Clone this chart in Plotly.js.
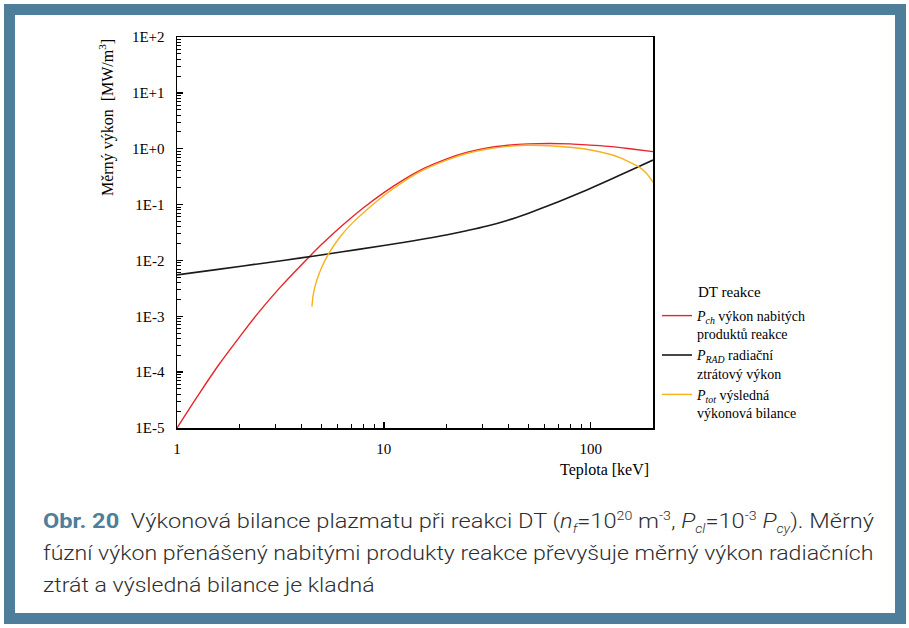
<!DOCTYPE html>
<html>
<head>
<meta charset="utf-8">
<script src="https://cdn.plot.ly/plotly-3.0.1.min.js"></script>
<style>
  html, body { margin:0; padding:0; background:#ffffff; }
  #wrap { position:relative; width:909px; height:628px; overflow:hidden; background:#fff; }
  #chart { position:absolute; left:0; top:0; width:909px; height:628px; }
  #frame { position:absolute; left:4px; top:4px; right:3px; bottom:4px; border:11px solid #4e7e9a; box-sizing:border-box; pointer-events:none; }
  .cap { position:absolute; left:43px; white-space:nowrap; font-family:Roboto, "Noto Sans", sans-serif; font-weight:300; font-size:20px; color:#2e2e2e; transform-origin:left center; line-height:1; }
  .cap b { color:#4e7e9a; font-weight:700; }
  .cap sub, .cap sup { font-size:12px; line-height:0; }
</style>
</head>
<body>
<div id="wrap">
  <div id="chart"></div>
  <div id="frame"></div>
  <div class="cap" id="c1" style="top:511px"><b>Obr. 20</b>&nbsp; Výkonová bilance plazmatu při reakci DT (<i>n</i><sub><i>f</i></sub>=10<sup>20</sup> m<sup>-3</sup>, <i>P</i><sub><i>cl</i></sub>=10<sup>-3</sup> <i>P</i><sub><i>cy</i></sub>). Měrný</div>
  <div class="cap" id="c2" style="top:543px">fúzní výkon přenášený nabitými produkty reakce převyšuje měrný výkon radiačních</div>
  <div class="cap" id="c3" style="top:575px">ztrát a výsledná bilance je kladná</div>
</div>
<script>
// Temperature [keV] and power density [MW/m3]
const T_ch  = [1, 1.26, 1.58, 2, 2.51, 3.16, 3.98, 5.01, 6.31, 7.94, 10, 12.6, 15.8, 20, 25.1, 31.6, 39.8, 50.1, 63.1, 79.4, 100, 126, 158, 200];
const P_ch  = [1e-5, 3.76e-5, 1.30e-4, 4.19e-4, 1.24e-3, 3.33e-3, 8.22e-3, 0.0194, 0.0425, 0.0867, 0.164, 0.286, 0.453, 0.653, 0.856, 1.03, 1.15, 1.22, 1.24, 1.22, 1.16, 1.09, 0.99, 0.885];

const T_rad = [1, 1.58, 2.51, 3.98, 6.31, 10, 12.6, 15.8, 20, 25.1, 31.6, 39.8, 50.1, 63.1, 79.4, 100, 126, 158, 200];
const P_rad = [0.0055, 0.00692, 0.00875, 0.0111, 0.01426, 0.01854, 0.0212, 0.0244, 0.0286, 0.0340, 0.0413, 0.0526, 0.0702, 0.0968, 0.1368, 0.1963, 0.287, 0.420, 0.628];

const T_tot = [4.49, 4.57, 4.75, 5.02, 5.4, 6.15, 7.13, 7.94, 10, 12.6, 15.8, 20, 25.1, 31.6, 39.8, 50.1, 63.1, 79.4, 100, 126, 140, 158, 173, 185, 200];
const P_tot = [0.0015, 0.0026, 0.0045, 0.0077, 0.0131, 0.0266, 0.049, 0.0705, 0.145, 0.265, 0.43, 0.62, 0.82, 0.99, 1.10, 1.15, 1.13, 1.06, 0.95, 0.78, 0.68, 0.55, 0.46, 0.37, 0.25];

const seriesNames = [
  '<i>P</i><sub><i>ch</i></sub> výkon nabitých<br>produktů reakce',
  '<i>P</i><sub><i>RAD</i></sub> radiační<br>ztrátový výkon',
  '<i>P</i><sub><i>tot</i></sub> výsledná<br>výkonová bilance'
];
const legendTitle = 'DT reakce';

const yTickVals = [1e-5, 1e-4, 1e-3, 1e-2, 1e-1, 1e0, 1e1, 1e2];
const yTickText = ['1E-5', '1E-4', '1E-3', '1E-2', '1E-1', '1E+0', '1E+1', '1E+2'];
const xTickVals = [1, 10, 100];
const xTickText = ['1', '10', '100'];

const xTitle = 'Teplota [keV]';
const yTitle = 'Měrný výkon&nbsp;&nbsp;[MW/m<sup>3</sup>]';

// minor log ticks (2..9 within each decade)
function minorTicks(lo, hi, max) {
  const out = [];
  for (let e = lo; e <= hi; e++) {
    for (let k = 2; k <= 9; k++) {
      const v = k * Math.pow(10, e);
      if (v < max) out.push(v);
    }
  }
  return out;
}

const serif = '"Liberation Serif", "Times New Roman", serif';
const xRange = [0, Math.log10(200)];
const yRange = [-5, 2];

const traces = [
  {x: T_ch, y: P_ch, name: seriesNames[0], mode: 'lines', line: {color: '#e8232b', width: 1.4, shape: 'spline', smoothing: 1}},
  {x: T_rad, y: P_rad, name: seriesNames[1], mode: 'lines', line: {color: '#1a1a1a', width: 1.6, shape: 'spline', smoothing: 1}},
  {x: T_tot, y: P_tot, name: seriesNames[2], mode: 'lines', line: {color: '#f7b11c', width: 1.4, shape: 'spline', smoothing: 1}},
  // carrier for the minor-tick axes (draws nothing)
  {x: [1], y: [1e-5], xaxis: 'x2', yaxis: 'y2', mode: 'lines', showlegend: false, hoverinfo: 'skip', line: {width: 0}}
];

const W = 909, H = 628;
const mL = 177, mR = 256, mT = 37, mB = 200;
const pw = W - mL - mR, ph = H - mT - mB;
const px2x = function (p) { return (p - mL) / pw; };
const py2y = function (p) { return (H - mB - p) / ph; };

const layout = {
  width: W, height: H,
  margin: {l: mL, r: mR, t: mT, b: mB, pad: 0},
  paper_bgcolor: '#ffffff', plot_bgcolor: '#ffffff',
  font: {family: serif, size: 15, color: '#000'},
  showlegend: true,
  legend: {
    x: px2x(657), xanchor: 'left', y: py2y(300), yanchor: 'top',
    valign: 'top',
    font: {family: serif, size: 14, color: '#000'},
    bgcolor: 'rgba(0,0,0,0)', borderwidth: 0
  },
  xaxis: {
    type: 'log', range: xRange,
    showline: true, linecolor: '#000', linewidth: 1.5, mirror: true,
    showgrid: false, zeroline: false,
    tickmode: 'array', tickvals: xTickVals, ticktext: xTickText,
    ticks: 'inside', ticklen: 6, tickcolor: '#000', tickwidth: 1.3,
    ticklabelstandoff: 6,
    tickfont: {family: serif, size: 15, color: '#000'}
  },
  yaxis: {
    type: 'log', range: yRange,
    showline: true, linecolor: '#000', linewidth: 1.5, mirror: true,
    showgrid: false, zeroline: false,
    tickmode: 'array', tickvals: yTickVals, ticktext: yTickText,
    ticks: 'inside', ticklen: 6, tickcolor: '#000', tickwidth: 1.3,
    ticklabelstandoff: 8,
    tickfont: {family: serif, size: 15, color: '#000'}
  },
  xaxis2: {
    type: 'log', range: xRange, overlaying: 'x', anchor: 'y2', side: 'bottom',
    showline: false, showgrid: false, zeroline: false, showticklabels: false,
    tickmode: 'array', tickvals: minorTicks(0, 2, 200),
    ticks: 'inside', ticklen: 4, tickcolor: '#000', tickwidth: 1
  },
  yaxis2: {
    type: 'log', range: yRange, overlaying: 'y', anchor: 'x2', side: 'left',
    showline: false, showgrid: false, zeroline: false, showticklabels: false,
    tickmode: 'array', tickvals: minorTicks(-5, 1, 100),
    ticks: 'inside', ticklen: 4, tickcolor: '#000', tickwidth: 1
  },
  annotations: [
    {text: yTitle, xref: 'paper', yref: 'paper', x: px2x(106), y: py2y(118), xanchor: 'center', yanchor: 'middle',
     textangle: -90, showarrow: false, font: {family: serif, size: 16, color: '#000'}},
    {text: xTitle, xref: 'paper', yref: 'paper', x: px2x(651), y: py2y(470), xanchor: 'right', yanchor: 'middle',
     showarrow: false, font: {family: serif, size: 16, color: '#000'}},
    {text: legendTitle, xref: 'paper', yref: 'paper', x: px2x(696), y: py2y(292), xanchor: 'left', yanchor: 'middle',
     showarrow: false, font: {family: serif, size: 15, color: '#000'}}
  ]
};

Plotly.newPlot('chart', traces, layout, {displayModeBar: false, staticPlot: true}).then(function () {
  // fit caption lines to the reference text width
  const target = 831;
  const c1 = document.getElementById('c1');
  const c2 = document.getElementById('c2');
  const c3 = document.getElementById('c3');
  const s1 = target / c1.scrollWidth;
  const s2 = target / c2.scrollWidth;
  c1.style.transform = 'scaleX(' + s1 + ')';
  c2.style.transform = 'scaleX(' + s2 + ')';
  c3.style.transform = 'scaleX(' + s2 + ')';
});
</script>
</body>
</html>
